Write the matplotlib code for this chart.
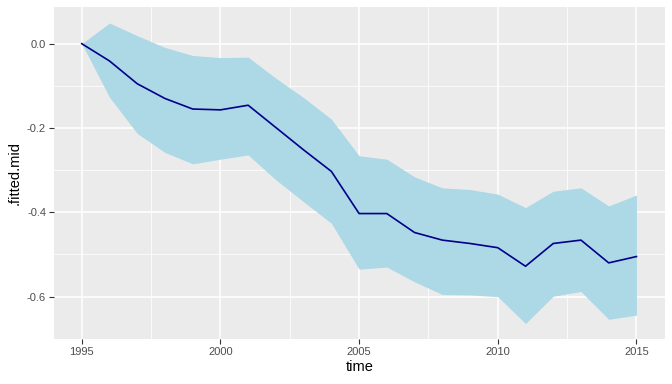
import numpy as np
import matplotlib
matplotlib.use("Agg")
import matplotlib.pyplot as plt
from matplotlib.ticker import MultipleLocator, FormatStrFormatter

plt.rcParams['font.family'] = ['Liberation Sans', 'DejaVu Sans']
plt.rcParams['axes.unicode_minus'] = False

# values
years = [1995, 1996, 1997, 1998, 1999, 2000, 2001, 2002, 2003, 2004, 2005,
         2006, 2007, 2008, 2009, 2010, 2011, 2012, 2013, 2014, 2015]
fitted_mid = [0.0, -0.041, -0.095, -0.130, -0.155, -0.157, -0.146, -0.199, -0.252, -0.303, -0.403,
              -0.403, -0.448, -0.466, -0.474, -0.484, -0.528, -0.474, -0.466, -0.520, -0.505]
fitted_upper = [0.0, 0.049, 0.019, -0.009, -0.028, -0.033, -0.032, -0.082, -0.128, -0.179, -0.266,
                -0.274, -0.316, -0.342, -0.346, -0.357, -0.389, -0.350, -0.342, -0.385, -0.359]
fitted_lower = [0.0, -0.127, -0.213, -0.258, -0.285, -0.274, -0.264, -0.323, -0.375, -0.426, -0.535,
                -0.530, -0.565, -0.595, -0.596, -0.600, -0.664, -0.599, -0.588, -0.654, -0.644]

fig = plt.figure(figsize=(6.72, 3.84), dpi=100)
ax = fig.add_axes([0.0804, 0.1172, 0.9092, 0.8654])
ax.set_facecolor('#EBEBEB')

ax.fill_between(years, fitted_lower, fitted_upper, color='#ADD8E6', linewidth=0, zorder=2)
ax.plot(years, fitted_mid, color='#00008B', linewidth=1.2, zorder=3)

ax.set_xlim(1994.0, 2016.03)
ax.set_ylim(-0.7006, 0.0878)

ax.xaxis.set_major_locator(MultipleLocator(5))
ax.xaxis.set_minor_locator(MultipleLocator(2.5))
ax.yaxis.set_major_locator(MultipleLocator(0.2))
ax.yaxis.set_minor_locator(MultipleLocator(0.1))
ax.yaxis.set_major_formatter(FormatStrFormatter('%.1f'))

ax.grid(which='major', color='white', linewidth=1.1, zorder=0)
ax.grid(which='minor', color='white', linewidth=0.55, zorder=0)
ax.set_axisbelow(True)

for s in ax.spines.values():
    s.set_visible(False)

ax.tick_params(which='major', length=3.7, width=0.8, color='#333333',
               labelsize=8, labelcolor='#4D4D4D', pad=2)
ax.tick_params(which='minor', length=0)

ax.set_xlabel('time', fontsize=10.5, labelpad=2)
ax.set_ylabel('.fitted.mid', fontsize=10.5, labelpad=4)

fig.savefig('out.png', dpi=100)
